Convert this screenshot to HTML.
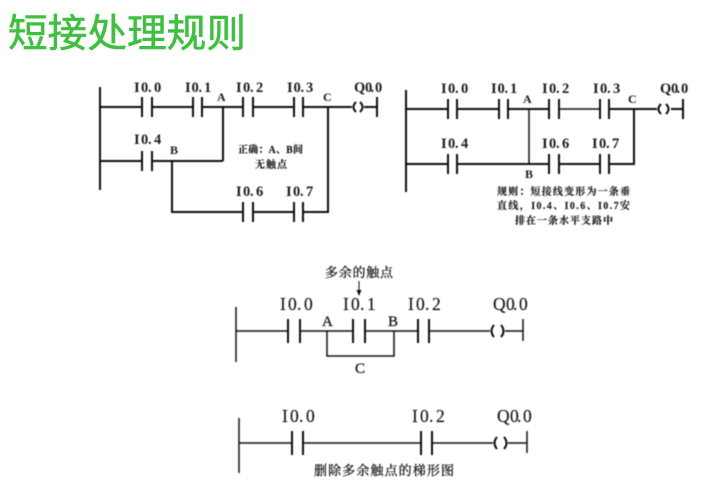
<!DOCTYPE html>
<html><head><meta charset="utf-8">
<style>
html,body{margin:0;padding:0;background:#fff;width:728px;height:496px;overflow:hidden}
svg{display:block}
text{font-family:"Liberation Serif","Noto Serif CJK SC",serif;fill:#1a1a1a}
.l{font-size:14.5px;font-weight:bold}
.s{font-size:12px;font-weight:bold}
.c{font-size:10px;font-weight:bold;stroke:#1a1a1a;stroke-width:.15}
.t{font-size:13px;stroke:#1a1a1a;stroke-width:.3}
.L{font-size:17.5px;stroke:#1a1a1a;stroke-width:.2}
.title{font-family:"Liberation Sans","WenQuanYi Zen Hei","Noto Sans CJK SC",sans-serif;font-size:39px;fill:#40bf40;stroke:#40bf40;stroke-width:.6}
path{fill:none;stroke:#111}
</style></head><body>
<svg width="728" height="496" viewBox="0 0 728 496" xmlns="http://www.w3.org/2000/svg">
<defs><filter id="b" x="-2%" y="-2%" width="104%" height="104%"><feGaussianBlur stdDeviation="0.4"/></filter></defs>
<text class="title" x="8" y="47" textLength="238" lengthAdjust="spacingAndGlyphs">短接处理规则</text>
<g filter="url(#b)">
<!-- Diagram 1 -->
<path stroke-width="2" d="M100 87V190M100 107H142M152 107H193M202 107H243M253 107H294M303 107H352M364 107H377M142 97V117M152 97V117M193 97V117M202 97V117M243 97V117M253 97V117M294 97V117M303 97V117M377 97V117
M100 161H142M152 161H223M223 107V161M142 151V171M152 151V171M172 161V212H243M253 212H294M303 212H328V107M243 202V222M253 202V222M294 202V222M303 202V222"/>
<path stroke-width="2" d="M356 102Q351 107 356 112M360 102Q365 107 360 112"/>
<text class="l" y="92" x="134 141 148 154">I0.0</text>
<text class="l" y="92" x="185 191.5 198.5 204">I0.1</text>
<text class="l" y="92" x="236 243 250 256">I0.2</text>
<text class="l" y="92" x="287 293.5 300.5 306">I0.3</text>
<text class="l" y="92" x="354 365 370.5 375">Q0.0</text>
<text class="s" x="217" y="101">A</text>
<text class="s" x="323" y="101">C</text>
<text class="l" y="144" x="134 141 148 154">I0.4</text>
<text class="s" x="170" y="154">B</text>
<text class="l" y="196" x="236 243 250 256">I0.6</text>
<text class="l" y="196" x="286 293 300 306">I0.7</text>
<text class="c" x="238" y="153" textLength="65">正确：A、B间</text>
<text class="c" x="255" y="168" textLength="32">无触点</text>
<!-- Diagram 2 -->
<path stroke-width="2" d="M406 90V192M406 109H448M457 109H499M508 109H549M609 109H657M671 109H683M448 99V119M457 99V119M499 99V119M508 99V119M549 99V119M559 99V119M600 99V119M609 99V119M683 99V119
M406 164H448M457 164H549M559 164H600M609 164H634V109M448 154V174M457 154V174M549 154V174M559 154V174M600 154V174M609 154V174"/>
<path stroke-width="1.5" d="M559 109H600M529 109V164"/>
<path stroke-width="2" d="M661 104Q656 109 661 114M666 104Q671 109 666 114"/>
<text class="l" y="93" x="441 448 455 461">I0.0</text>
<text class="l" y="93" x="491 497.5 504.5 510">I0.1</text>
<text class="l" y="93" x="542 549 556 562">I0.2</text>
<text class="l" y="93" x="593 600 607 613">I0.3</text>
<text class="l" y="93" x="660 671 676.5 681">Q0.0</text>
<text class="s" x="523" y="103">A</text>
<text class="s" x="628" y="103">C</text>
<text class="l" y="148" x="441 448 455 461">I0.4</text>
<text class="l" y="148" x="542 549 556 562">I0.6</text>
<text class="l" y="148" x="592 599 606 612">I0.7</text>
<text class="s" x="525" y="178">B</text>
<text class="c" x="497" y="195" textLength="133">规则：短接线变形为一条垂</text>
<text class="c" x="497" y="209" textLength="133">直线，I0.4、I0.6、I0.7安</text>
<text class="c" x="515" y="224" textLength="98">排在一条水平支路中</text>
<!-- Diagram 3 -->
<path stroke-width="1.5" d="M236 307V362M236 331H288M300 331H353M365 331H418M429 331H490M505 331H523M523 319V341M327 331V356H394V331"/>
<path stroke-width="2" d="M288 319V343M300 319V343M353 319V343M365 319V343M418 319V343M429 319V343"/>
<path stroke-width="2" d="M494 325Q489 331 494 337M501 325Q506 331 501 337"/>
<path stroke-width="1" d="M359 281V294"/>
<path style="fill:#111;stroke:none" d="M356.5 290H361.5L359 296Z"/>
<text class="t" x="325" y="277" textLength="68">多余的触点</text>
<text class="L" y="310" x="280 288 297 304">I0.0</text>
<text class="L" y="310" x="343 351 360 367">I0.1</text>
<text class="L" y="310" x="408 416 425 432">I0.2</text>
<text class="L" y="310" x="493 506 513 519">Q0.0</text>
<text class="t" x="322" y="326" style="font-size:15px">A</text>
<text class="t" x="388" y="326" style="font-size:15px">B</text>
<text class="t" x="355" y="373" style="font-size:15px">C</text>
<!-- Diagram 4 -->
<path stroke-width="1.5" d="M239 418V473M239 443H292M303 443H421M432 443H493M508 443H527M527 431V453"/>
<path stroke-width="2" d="M292 431V455M303 431V455M421 431V455M432 431V455"/>
<path stroke-width="2" d="M497 437Q492 443 497 449M504 437Q509 443 504 449"/>
<text class="L" y="422" x="282 290 299 306">I0.0</text>
<text class="L" y="422" x="412 420 429 436">I0.2</text>
<text class="L" y="422" x="497 510 517 523">Q0.0</text>
<text class="t" x="314" y="475" textLength="140">删除多余触点的梯形图</text>
</g>
</svg>
</body></html>
